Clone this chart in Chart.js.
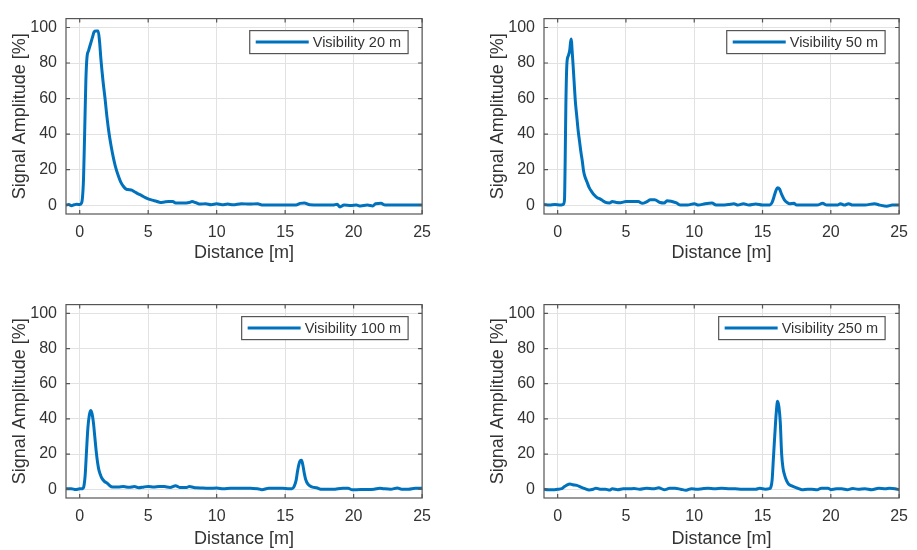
<!DOCTYPE html>
<html lang="en">
<head>
<meta charset="UTF-8">
<title>Signal Amplitude vs Distance</title>
<script src="https://cdn.jsdelivr.net/npm/chart.js"></script>
<style>
  body { margin: 0; background: #fff; }
  #wrap { position: relative; width: 917px; height: 550px; }
  #wrap canvas { position: absolute; }
</style>
</head>
<body>
<div id="wrap">
  <canvas id="vis20" width="440" height="264" style="left:0;top:0"></canvas>
  <canvas id="vis50" width="439" height="264" style="left:478px;top:0"></canvas>
  <canvas id="vis100" width="440" height="264" style="left:0;top:286px"></canvas>
  <canvas id="vis250" width="439" height="264" style="left:478px;top:286px"></canvas>
</div>

<script>
  // Achsen
  const xTicks = [0, 5, 10, 15, 20, 25];
  const yTicks = [0, 20, 40, 60, 80, 100];

  // Visibility 20 m
  const dist20 = [-1, -0.8, -0.6, -0.4, -0.2, 0, 0.12, 0.2, 0.28, 0.36, 0.45, 0.53, 0.65, 0.8, 0.95, 1.05, 1.2, 1.35, 1.45, 1.55, 1.7, 1.85, 2.0, 2.15, 2.3, 2.45, 2.6, 2.8, 3.0, 3.2, 3.4, 3.6, 3.8, 4.0, 4.2, 4.5, 4.8, 5.0, 5.3, 5.6, 5.9, 6.2, 6.5, 6.8, 7.0, 7.5, 8.0, 8.2, 8.5, 8.8, 9.2, 9.6, 10.0, 10.4, 10.8, 11.2, 11.8, 12.4, 13.0, 13.3, 14.0, 15.0, 15.8, 16.1, 16.4, 16.8, 17.5, 18.5, 18.8, 19.0, 19.3, 19.8, 20.2, 20.5, 21.0, 21.4, 21.6, 22.0, 22.3, 23.0, 24.0, 25.0];
  const amp20 = [0, 0.3, -0.3, 0.2, 0.5, 0.3, 1, 4, 15, 40, 70, 83, 87, 91, 95, 97.5, 98, 98, 92, 82, 70, 60, 49, 40, 33, 27, 22, 17, 13, 10.5, 9, 8.7, 8.4, 7.5, 6.6, 5.5, 4.2, 3.5, 2.8, 2.2, 1.5, 1.8, 2, 2, 1.2, 1.2, 1.5, 2, 1.3, 0.6, 0.8, 0.2, 0.7, 0.2, 0.6, 0.2, 0.8, 0.6, 0.8, 0.1, 0, 0, 0.1, 1, 1.2, 0.2, 0, 0, 0.5, -1, 0, -0.2, 0, -0.5, 0, -0.5, 0.8, 1, 0, 0, 0, 0];

  // Visibility 50 m
  const dist50 = [-1, -0.6, -0.2, 0.2, 0.42, 0.5, 0.55, 0.6, 0.68, 0.78, 0.88, 0.95, 1.0, 1.05, 1.12, 1.2, 1.3, 1.4, 1.5, 1.6, 1.7, 1.8, 1.9, 2.0, 2.15, 2.3, 2.5, 2.7, 2.9, 3.1, 3.3, 3.5, 3.8, 4.0, 4.3, 4.6, 5.0, 5.5, 5.9, 6.2, 6.5, 6.8, 7.1, 7.5, 7.8, 8.0, 8.3, 8.7, 9.0, 9.5, 10.0, 10.3, 10.8, 11.3, 11.6, 12.0, 12.5, 12.9, 13.2, 13.6, 14.0, 14.5, 15.0, 15.5, 15.7, 15.85, 16.0, 16.1, 16.25, 16.4, 16.6, 16.8, 17.0, 17.3, 17.5, 18.0, 19.0, 19.4, 19.7, 20.5, 20.7, 21.0, 21.3, 21.6, 22.5, 23.2, 23.6, 24.1, 24.5, 25.0];
  const amp50 = [0.3, 0, 0.3, 0, 0.5, 3, 25, 56, 80, 84, 87, 92, 93.5, 88, 80, 70, 58, 50, 42, 36, 30, 25, 19, 16, 13, 10, 7.5, 5.5, 4.2, 3.5, 2.5, 1.5, 1.2, 2, 1.5, 1.4, 2, 2, 2, 1, 1.8, 3, 3, 1.5, 1.2, 2.4, 2.2, 1.2, 0, 0, 0.8, 0, 0.8, 1.2, 0, 0, 0.3, 0.8, 0, 0.8, 0, 0.6, 0, 0, 1.5, 5, 8.5, 9.8, 9, 6, 3, 1.5, 0.8, 1, 0, 0, 0, 1, 0, 0, 0.8, 0, 0.8, 0, 0, 0.8, 0, -0.6, 0, 0];

  // Visibility 100 m
  const dist100 = [-1, -0.6, -0.3, 0, 0.2, 0.3, 0.4, 0.5, 0.6, 0.7, 0.8, 0.9, 1.0, 1.1, 1.2, 1.3, 1.4, 1.5, 1.6, 1.8, 2.0, 2.2, 2.4, 2.8, 3.2, 3.6, 4.0, 4.3, 4.7, 5.0, 5.4, 5.8, 6.2, 6.6, 7.0, 7.3, 7.8, 8.0, 8.5, 9.0, 9.5, 10.0, 10.5, 11.0, 11.5, 12.0, 12.5, 13.0, 13.3, 13.8, 14.3, 14.8, 15.3, 15.5, 15.65, 15.8, 15.9, 16.0, 16.1, 16.2, 16.3, 16.4, 16.5, 16.65, 16.8, 17.0, 17.3, 17.6, 18.5, 19.2, 19.6, 19.9, 20.5, 21.0, 21.5, 21.9, 22.2, 22.7, 23.2, 23.5, 24.0, 24.5, 25.0];
  const amp100 = [0.3, 0.3, -0.2, 0.2, 0.3, 1.5, 8, 22, 35, 42, 44.8, 43, 38, 30, 22, 15.5, 11, 8.5, 6.5, 4.5, 3.5, 2, 1.3, 1.3, 1.5, 1.1, 1.5, 0.8, 1.3, 1.5, 1.2, 1.6, 1.5, 1, 2, 1, 1, 1.5, 0.8, 0.7, 0.5, 0.7, 0.2, 0.6, 0.5, 0.6, 0.5, 0.3, -0.3, 0.5, 0.5, 0.5, 0.3, 0.3, 1.5, 5, 10, 14, 16.2, 16.5, 13.5, 9, 5.5, 3, 2, 1.2, 0.8, 0, 0, 0.6, 0.5, -0.3, -0.2, -0.2, 0, 0.6, 0.3, 0, 0.7, 0, 0, 0.6, 0.6];

  // Visibility 250 m
  const dist250 = [-1, -0.7, -0.3, 0, 0.3, 0.5, 0.7, 0.9, 1.1, 1.4, 1.7, 2.0, 2.3, 2.6, 2.8, 3.1, 3.5, 3.8, 4.0, 4.4, 4.8, 5.2, 5.6, 6.0, 6.5, 7.0, 7.4, 7.8, 8.2, 8.6, 9.0, 9.4, 9.8, 10.2, 10.6, 11.0, 11.5, 12.0, 12.5, 13.0, 13.5, 14.0, 14.5, 14.8, 15.2, 15.5, 15.6, 15.7, 15.8, 15.9, 16.0, 16.1, 16.2, 16.3, 16.4, 16.5, 16.6, 16.75, 16.9, 17.1, 17.4, 17.6, 17.9, 18.3, 18.6, 19.0, 19.3, 19.8, 20.0, 20.4, 20.8, 21.2, 21.6, 22.0, 22.5, 23.0, 23.5, 24.0, 24.3, 24.7, 25.0];
  const amp250 = [0, -0.3, -0.3, 0, 0.3, 1.5, 2.5, 3, 2.5, 2.2, 1.2, 0.3, -0.4, 0, 0.6, 0, 0, -0.5, 0.2, -0.3, 0.3, 0.2, 0.4, 0, 0.6, 0.2, 0.8, -0.3, 0.5, 0.5, 0, -0.6, 0.3, 0, 0.3, 0.5, 0.2, 0.5, 0.3, 0.2, 0, 0, 0, 0.5, 0, 0.3, 1, 5, 18, 31, 43, 50, 47, 38, 20, 12, 8.5, 5, 3, 2, 1, 0.5, -0.3, 0, 0, -0.3, 0.6, 0.6, -0.3, 0.2, 0.2, -0.3, 0.4, 0, 0.3, -0.3, 0.5, 0.2, 0.6, 0.3, -0.3];

  const FONT = 'Arial, "Liberation Sans", Helvetica, sans-serif';
  const TEXT = '#333333';
  const BOX = '#555555';
  const BLUE = '#0072BD';

  // Rahmen mit nach innen zeigenden Ticks (wie MATLAB)
  const framePlugin = {
    id: 'frame',
    afterDatasetsDraw(chart) {
      const { ctx, chartArea: a, scales } = chart;
      ctx.save();
      ctx.strokeStyle = BOX;
      ctx.lineWidth = 1.2;
      ctx.strokeRect(a.left, a.top, a.right - a.left, a.bottom - a.top);
      ctx.beginPath();
      xTicks.forEach(v => {
        const px = scales.x.getPixelForValue(v);
        ctx.moveTo(px, a.bottom); ctx.lineTo(px, a.bottom - 4);
        ctx.moveTo(px, a.top); ctx.lineTo(px, a.top + 4);
      });
      yTicks.forEach(v => {
        const py = scales.y.getPixelForValue(v);
        ctx.moveTo(a.left, py); ctx.lineTo(a.left + 4, py);
        ctx.moveTo(a.right, py); ctx.lineTo(a.right - 4, py);
      });
      ctx.stroke();
      ctx.restore();
    }
  };

  // Legende mit Rahmen oben rechts im Plot
  const legendPlugin = {
    id: 'boxLegend',
    afterDraw(chart) {
      const { ctx, chartArea: a } = chart;
      const ds = chart.data.datasets[0];
      ctx.save();
      ctx.font = '14.5px ' + FONT;
      const tw = ctx.measureText(ds.label).width;
      const w = 6 + 53 + 4 + tw + 7, h = 23;
      const x = a.right - 14 - w, y = a.top + 12;
      ctx.fillStyle = '#fff';
      ctx.fillRect(x, y, w, h);
      ctx.strokeStyle = BOX;
      ctx.lineWidth = 1.2;
      ctx.strokeRect(x, y, w, h);
      ctx.strokeStyle = ds.borderColor;
      ctx.lineWidth = 3;
      ctx.beginPath();
      ctx.moveTo(x + 6, y + h / 2);
      ctx.lineTo(x + 59, y + h / 2);
      ctx.stroke();
      ctx.fillStyle = TEXT;
      ctx.textBaseline = 'middle';
      ctx.fillText(ds.label, x + 63, y + h / 2 + 0.5);
      ctx.restore();
    }
  };

  function makeChart(id, label, dist, amp, xHeight, padRight) {
    const ctx = document.getElementById(id).getContext('2d');
    return new Chart(ctx, {
      type: 'line',
      data: {
        datasets: [{
          label: label,
          data: dist.map((d, i) => ({ x: d, y: amp[i] })),
          borderColor: BLUE,
          borderWidth: 3,
          pointRadius: 0,
          cubicInterpolationMode: 'monotone',
          fill: false
        }]
      },
      options: {
        responsive: false,
        animation: false,
        layout: { padding: { top: 10, right: padRight, left: 0, bottom: 0 } },
        plugins: { legend: { display: false }, tooltip: { enabled: false } },
        scales: {
          x: {
            type: 'linear',
            min: -1,
            max: 25,
            afterBuildTicks: s => { s.ticks = xTicks.map(v => ({ value: v })); },
            afterFit: s => { s.height = xHeight; },
            grid: { color: '#e2e2e2', drawTicks: false },
            border: { display: false },
            ticks: { padding: 9, color: TEXT, maxRotation: 0, font: { family: FONT, size: 16 } },
            title: { display: true, text: 'Distance [m]', color: TEXT, padding: { top: 0, bottom: 0 }, font: { family: FONT, size: 18 } }
          },
          y: {
            min: -5,
            max: 105,
            afterBuildTicks: s => { s.ticks = yTicks.map(v => ({ value: v })); },
            afterFit: s => { s.width = 66; },
            grid: { color: '#e2e2e2', drawTicks: false },
            border: { display: false },
            ticks: { padding: 9, color: TEXT, font: { family: FONT, size: 16 } },
            title: { display: true, text: 'Signal Amplitude [%]', color: TEXT, padding: { top: 9, bottom: 0 }, font: { family: FONT, size: 18 } }
          }
        }
      },
      plugins: [framePlugin, legendPlugin]
    });
  }

  makeChart('vis20', 'Visibility 20 m', dist20, amp20, 50, 12);
  makeChart('vis50', 'Visibility 50 m', dist50, amp50, 50, 10);
  makeChart('vis100', 'Visibility 100 m', dist100, amp100, 52, 12);
  makeChart('vis250', 'Visibility 250 m', dist250, amp250, 52, 10);
</script>
</body>
</html>
